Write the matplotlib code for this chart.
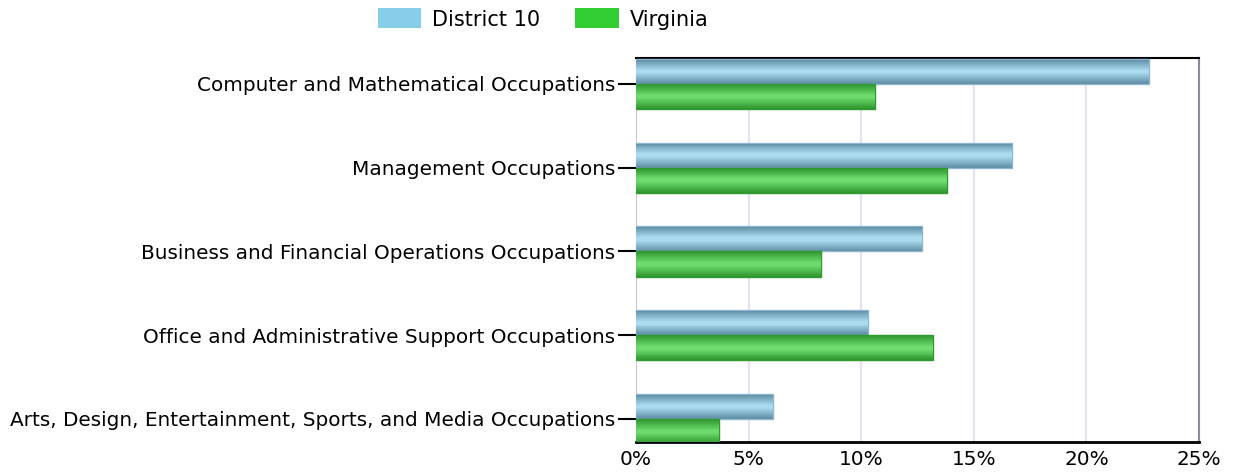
import numpy as np
import matplotlib.pyplot as plt
from matplotlib.patches import Patch
from matplotlib.ticker import PercentFormatter
from matplotlib.colors import to_rgb

# Data
categories = [
    'Computer and Mathematical Occupations',
    'Management Occupations',
    'Business and Financial Operations Occupations',
    'Office and Administrative Support Occupations',
    'Arts, Design, Entertainment, Sports, and Media Occupations',
]
district = [22.8, 16.7, 12.7, 10.3, 6.1]
virginia = [10.6, 13.8, 8.2, 13.2, 3.7]
series_names = ['District 10', 'Virginia']
x_ticks = [0, 5, 10, 15, 20, 25]


def gradient_barh(ax, y, widths, height, edge, mid, outline, steps=12):
    # fake a shaded bar by stacking thinner, lighter bars
    e = np.array(to_rgb(edge))
    m = np.array(to_rgb(mid))
    ax.barh(y, widths, height=height, color=e, edgecolor=outline,
            linewidth=1, zorder=3)
    for k in range(1, steps):
        t = k / (steps - 1)
        c = e + (m - e) * t
        ax.barh(y, widths, height=height * (1 - 0.85 * t), color=c,
                edgecolor='none', zorder=3)


fig = plt.figure(figsize=(12.35, 4.75), dpi=100)
ax = fig.add_axes([636 / 1235, 1 - 442 / 475, 563 / 1235, 384 / 475])

y = np.arange(len(categories))
h = 0.3
gradient_barh(ax, y - h / 2, district, h, '#5e8ea5', '#abdbee', '#8fb8cc')
gradient_barh(ax, y + h / 2, virginia, h, '#2f982f', '#6ddb6d', '#2f982f')

ax.set_xlim(0, 25)
ax.set_ylim(4.275, -0.31)
ax.set_xticks(x_ticks)
ax.xaxis.set_major_formatter(PercentFormatter(decimals=0))
ax.set_yticks(y)
ax.set_yticklabels(categories)
ax.tick_params(axis='y', length=13, width=1.5, color='black', labelsize=14.4, pad=2)
ax.tick_params(axis='x', length=0, labelsize=14.4, pad=6)
ax.grid(axis='x', color='#e2e2f4', linewidth=1.5, zorder=0)
ax.set_axisbelow(True)

ax.spines['top'].set_color('black')
ax.spines['top'].set_linewidth(1.5)
ax.spines['bottom'].set_color('black')
ax.spines['bottom'].set_linewidth(2)
ax.spines['left'].set_color('#c8c8d8')
ax.spines['right'].set_color('#8a8a9a')
ax.spines['right'].set_linewidth(1.5)

handles = [Patch(facecolor='#87ceeb', label=series_names[0]),
           Patch(facecolor='#32cd32', label=series_names[1])]
fig.legend(handles=handles, loc='center', bbox_to_anchor=(543 / 1235, 1 - 19 / 475),
           ncol=2, frameon=False, fontsize=15, handlelength=2.1,
           handleheight=1.1, columnspacing=1.7, handletextpad=0.5)

fig.savefig('out.png', dpi=100)
